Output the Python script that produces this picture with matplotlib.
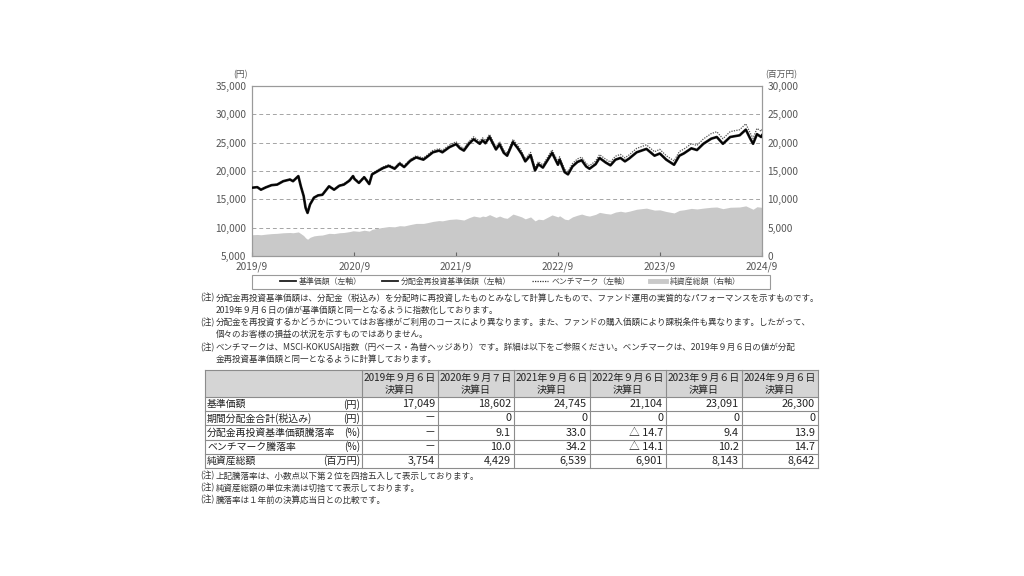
import matplotlib
matplotlib.use("Agg")
import matplotlib.pyplot as plt
import pandas as pd
from matplotlib.lines import Line2D
from matplotlib.patches import Rectangle

plt.rcParams['font.family'] = ['Noto Sans CJK JP', 'DejaVu Sans']

# ---- chart data ----
dates = [
    "2019-09-06", "2019-09-25", "2019-10-08", "2019-10-25", "2019-11-15", "2019-12-05",
    "2019-12-27", "2020-01-20", "2020-01-31", "2020-02-19", "2020-02-28", "2020-03-09",
    "2020-03-16", "2020-03-23", "2020-04-01", "2020-04-15", "2020-04-30", "2020-05-15",
    "2020-06-08", "2020-06-26", "2020-07-15", "2020-07-31", "2020-08-20", "2020-09-02",
    "2020-09-07", "2020-09-23", "2020-10-12", "2020-10-30", "2020-11-09", "2020-11-30",
    "2020-12-18", "2021-01-08", "2021-01-29", "2021-02-16", "2021-03-04", "2021-03-26",
    "2021-04-16", "2021-05-12", "2021-05-28", "2021-06-15", "2021-07-07", "2021-07-19",
    "2021-08-13", "2021-09-06", "2021-09-20", "2021-10-04", "2021-10-22", "2021-11-08",
    "2021-11-30", "2021-12-10", "2021-12-20", "2022-01-04", "2022-01-27", "2022-02-09",
    "2022-02-24", "2022-03-08", "2022-03-29", "2022-04-14", "2022-04-29", "2022-05-12",
    "2022-05-31", "2022-06-16", "2022-06-28", "2022-07-14", "2022-08-16", "2022-09-06",
    "2022-09-12", "2022-09-30", "2022-10-12", "2022-10-28", "2022-11-15", "2022-11-30",
    "2022-12-16", "2022-12-28", "2023-01-19", "2023-02-02", "2023-02-24", "2023-03-13",
    "2023-03-31", "2023-04-18", "2023-05-04", "2023-05-19", "2023-06-15", "2023-07-20",
    "2023-08-18", "2023-09-06", "2023-09-29", "2023-10-27", "2023-11-15", "2023-12-01",
    "2023-12-28", "2024-01-17", "2024-02-09", "2024-03-08", "2024-03-28", "2024-04-19",
    "2024-05-15", "2024-06-18", "2024-07-10", "2024-07-25", "2024-08-05", "2024-08-19",
    "2024-09-03", "2024-09-06",
]

fund = [
    17049, 17150, 16700, 17100, 17500, 17600,
    18200, 18500, 18200, 19100, 17300, 15600,
    13500, 12600, 14100, 15300, 15700, 15800,
    17300, 16700, 17400, 17600, 18300, 19100,
    18602, 17900, 18900, 17700, 19400, 20000,
    20500, 20900, 20400, 21300, 20700, 21800,
    22400, 22000, 22600, 23300, 23600, 23300,
    24200, 24745, 24000, 23600, 24800, 25600,
    24800, 25400, 24900, 26000, 23800, 24700,
    23200, 22700, 25100, 24100, 23000, 21700,
    22800, 20100, 21200, 20600, 23200, 21104,
    22000, 19800, 19400, 20800, 21600, 21900,
    20800, 20400, 21200, 22300, 21500, 21000,
    22000, 22300, 21700, 22200, 23300, 23900,
    22700, 23091, 22000, 21100, 22700, 23100,
    24000, 23700, 24800, 25700, 26000, 24800,
    26000, 26300, 27300, 25800, 24800, 26500,
    26000, 26300,
]

# no distributions were paid, so the reinvested series equals the NAV per unit
fund_reinv = fund

bench = [
    17049, 17160, 16710, 17120, 17530, 17640,
    18240, 18550, 18250, 19170, 17360, 15660,
    13550, 12650, 14160, 15370, 15780, 15890,
    17400, 16800, 17520, 17720, 18440, 19250,
    18754, 18050, 19060, 17860, 19580, 20190,
    20710, 21120, 20620, 21540, 20940, 22060,
    22680, 22290, 22900, 23620, 23940, 23640,
    24570, 25168, 24380, 23980, 25210, 26030,
    25230, 25850, 25350, 26470, 24240, 25170,
    23650, 23140, 25600, 24590, 23480, 22150,
    23290, 20540, 21660, 21060, 23730, 21619,
    22520, 20280, 19870, 21310, 22140, 22450,
    21330, 20930, 21760, 22890, 22080, 21580,
    22610, 22930, 22320, 22840, 23990, 24620,
    23400, 23824, 22700, 21780, 23440, 23860,
    24810, 24510, 25660, 26600, 26930, 25690,
    26950, 27280, 28330, 26780, 25750, 27520,
    27010, 27326,
]

net_assets = [
    3754, 3800, 3750, 3850, 3950, 4000,
    4100, 4150, 4100, 4250, 3950, 3600,
    3200, 2950, 3300, 3550, 3650, 3700,
    4000, 3950, 4100, 4150, 4300, 4450,
    4429, 4350, 4550, 4400, 4700, 4900,
    5050, 5200, 5150, 5350, 5300, 5550,
    5750, 5750, 5900, 6100, 6250, 6200,
    6450, 6539, 6450, 6350, 6750, 7050,
    6850, 7050, 6950, 7300, 6800, 7050,
    6750, 6650, 7400, 7150, 6900, 6550,
    6900, 6200, 6500, 6400, 7250, 6901,
    7100, 6500, 6400, 6900, 7200, 7400,
    7150, 7050, 7350, 7700, 7500, 7400,
    7750, 7900, 7750, 7900, 8250, 8450,
    8100, 8143, 7850, 7600, 8050, 8150,
    8400, 8300, 8450, 8600, 8650, 8350,
    8600, 8650, 8850, 8500, 8250, 8700,
    8600, 8642,
]

xtick_dates = ["2019-09-06", "2020-09-06", "2021-09-06", "2022-09-06", "2023-09-06", "2024-09-06"]
xtick_labels = ["2019/9", "2020/9", "2021/9", "2022/9", "2023/9", "2024/9"]
left_ticks = [5000, 10000, 15000, 20000, 25000, 30000, 35000]
right_ticks = [0, 5000, 10000, 15000, 20000, 25000, 30000]

legend_labels = ["基準価額（左軸）", "分配金再投資基準価額（左軸）", "ベンチマーク（左軸）", "純資産総額（右軸）"]

notes_top = [
    ("(注)", "分配金再投資基準価額は、分配金（税込み）を分配時に再投資したものとみなして計算したもので、ファンド運用の実質的なパフォーマンスを示すものです。"),
    ("", "2019年９月６日の値が基準価額と同一となるように指数化しております。"),
    ("(注)", "分配金を再投資するかどうかについてはお客様がご利用のコースにより異なります。また、ファンドの購入価額により課税条件も異なります。したがって、"),
    ("", "個々のお客様の損益の状況を示すものではありません。"),
    ("(注)", "ベンチマークは、MSCI-KOKUSAI指数（円ベース・為替ヘッジあり）です。詳細は以下をご参照ください。ベンチマークは、2019年９月６日の値が分配"),
    ("", "金再投資基準価額と同一となるように計算しております。"),
]

# ---- table data ----
col_dates = ["2019年９月６日", "2020年９月７日", "2021年９月６日", "2022年９月６日", "2023年９月６日", "2024年９月６日"]
row_labels = ["基準価額", "期間分配金合計(税込み)", "分配金再投資基準価額騰落率", "ベンチマーク騰落率", "純資産総額"]
row_units = ["(円)", "(円)", "(%)", "(%)", "(百万円)"]
tbl_price = [17049, 18602, 24745, 21104, 23091, 26300]
tbl_dist = [None, 0, 0, 0, 0, 0]
tbl_fund_ret = [None, 9.1, 33.0, -14.7, 9.4, 13.9]
tbl_bench_ret = [None, 10.0, 34.2, -14.1, 10.2, 14.7]
tbl_assets = [3754, 4429, 6539, 6901, 8143, 8642]

notes_bottom = [
    "上記騰落率は、小数点以下第２位を四捨五入して表示しております。",
    "純資産総額の単位未満は切捨てて表示しております。",
    "騰落率は１年前の決算応当日との比較です。",
]

TXT = "#333333"
SPINE = "#9a9a9a"


def fmt_int(v):
    return "－" if v is None else f"{v:,}"


def fmt_pct(v):
    if v is None:
        return "－"
    if v < 0:
        return f"△ {abs(v):.1f}"
    return f"{v:.1f}"


def main():
    d = pd.to_datetime(dates)
    fig = plt.figure(figsize=(10.24, 5.76), dpi=100)
    W, H = 1024, 576

    ax = fig.add_axes([252 / W, 1 - 256 / H, 510 / W, 170 / H])
    ax2 = ax.twinx()

    # net assets (right axis), gridlines sit under the fill
    ax2.fill_between(d, 0, net_assets, color="#c9c9c9", lw=0, zorder=2)
    ax2.set_ylim(0, 30000)
    ax2.set_yticks(right_ticks)
    ax2.set_yticklabels([f"{v:,}" for v in right_ticks])
    ax2.set_axisbelow(True)
    ax2.grid(axis="y", color="#a5a5a5", lw=0.7, linestyle=(0, (4, 3)))

    ax.set_zorder(ax2.get_zorder() + 1)
    ax.patch.set_visible(False)
    ax.plot(d, bench, color="#555555", lw=0.9, ls=(0, (1, 1)), zorder=3)
    ax.plot(d, fund, color="#1e1e1e", lw=1.9, zorder=4)
    ax.plot(d, fund_reinv, color="#000000", lw=0.9, zorder=5)
    ax.set_ylim(5000, 35000)
    ax.set_yticks(left_ticks)
    ax.set_yticklabels([f"{v:,}" for v in left_ticks])
    xt = pd.to_datetime(xtick_dates)
    ax.set_xlim(xt[0], xt[-1])
    ax.set_xticks(xt)
    ax.set_xticklabels(xtick_labels)

    for a in (ax, ax2):
        for s in a.spines.values():
            s.set_color(SPINE)
            s.set_linewidth(0.8)
        a.tick_params(axis="y", length=0, labelsize=7.3, labelcolor="#555555", pad=4)
    ax.tick_params(axis="x", direction="in", length=3, color="#666666",
                   labelsize=7.3, labelcolor="#555555", pad=4)

    fig.text(240 / W, 1 - 75 / H, "(円)", fontsize=6.3, color="#555555", ha="center", va="center")
    fig.text(781 / W, 1 - 75 / H, "(百万円)", fontsize=6.3, color="#555555", ha="center", va="center")

    # legend
    handles = [
        Line2D([], [], color="#1e1e1e", lw=1.3),
        Line2D([], [], color="#1e1e1e", lw=1.3),
        Line2D([], [], color="#333333", lw=0.9, ls=(0, (1, 1))),
        Line2D([], [], color="#c9c9c9", lw=3.5),
    ]
    fig.legend(handles, legend_labels, loc="center", bbox_to_anchor=(510 / W, 1 - 281.5 / H),
               ncol=4, frameon=False, fontsize=5.7, handlelength=2.0, handletextpad=0.4,
               columnspacing=2.6, labelcolor="#444444")

    # overlay in pixel coordinates for frame, notes and table
    ov = fig.add_axes([0, 0, 1, 1], zorder=-5)
    ov.set_xlim(0, W)
    ov.set_ylim(H, 0)
    ov.axis("off")
    ov.add_patch(Rectangle((252, 274.5), 518, 14, fill=False, ec=SPINE, lw=0.8))

    y = 298
    for head, body in notes_top:
        if head:
            ov.text(200, y, head, fontsize=6.15, color=TXT, va="center")
        ov.text(216, y, body, fontsize=6.15, color=TXT, va="center")
        y += 12.3

    # table
    cols_x = [205, 362, 438, 514, 590, 666, 742, 818]
    rows_y = [370, 397, 411.2, 425.4, 439.6, 453.8, 468]
    ov.add_patch(Rectangle((cols_x[0], rows_y[0]), cols_x[-1] - cols_x[0], rows_y[1] - rows_y[0],
                           fc="#d5d5d5", ec="none"))
    for ry in rows_y:
        ov.plot([cols_x[0], cols_x[-1]], [ry, ry], color="#8c8c8c", lw=0.8)
    for cx in cols_x:
        ov.plot([cx, cx], [rows_y[0], rows_y[-1]], color="#8c8c8c", lw=0.8)

    for i, lab in enumerate(col_dates):
        cx = (cols_x[i + 1] + cols_x[i + 2]) / 2
        ov.text(cx, 377.5, lab, fontsize=7.2, color="#222222", ha="center", va="center")
        ov.text(cx, 390, "決算日", fontsize=7.2, color="#222222", ha="center", va="center")

    rows = [
        [fmt_int(v) for v in tbl_price],
        [fmt_int(v) for v in tbl_dist],
        [fmt_pct(v) for v in tbl_fund_ret],
        [fmt_pct(v) for v in tbl_bench_ret],
        [fmt_int(v) for v in tbl_assets],
    ]
    for r, (lab, unit, vals) in enumerate(zip(row_labels, row_units, rows)):
        cy = (rows_y[r + 1] + rows_y[r + 2]) / 2
        ov.text(207, cy, lab, fontsize=7.1, color="#222222", va="center")
        ov.text(360, cy, unit, fontsize=7.3, color="#222222", va="center", ha="right")
        for c, v in enumerate(vals):
            ov.text(cols_x[c + 2] - 3, cy, v, fontsize=7.8, color="#222222", va="center", ha="right")

    y = 476
    for body in notes_bottom:
        ov.text(200, y, "(注)", fontsize=6.15, color=TXT, va="center")
        ov.text(216, y, body, fontsize=6.15, color=TXT, va="center")
        y += 12

    fig.savefig("out.png", dpi=100, facecolor="white")


if __name__ == "__main__":
    main()
